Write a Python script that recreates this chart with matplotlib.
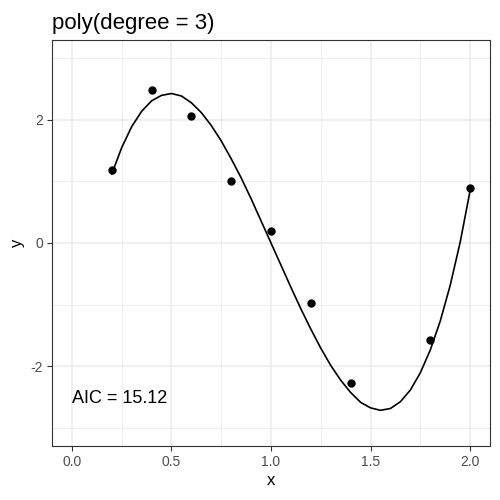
import matplotlib
matplotlib.use('Agg')
import matplotlib.pyplot as plt

# observed points
x_obs = [0.2, 0.4, 0.6, 0.8, 1.0, 1.2, 1.4, 1.8, 2.0]
y_obs = [1.18, 2.48, 2.06, 1.00, 0.20, -0.98, -2.28, -1.58, 0.89]

# fitted cubic curve, values every 0.05
x_fit = [0.20, 0.25, 0.30, 0.35, 0.40, 0.45, 0.50, 0.55, 0.60, 0.65,
         0.70, 0.75, 0.80, 0.85, 0.90, 0.95, 1.00, 1.05, 1.10, 1.15,
         1.20, 1.25, 1.30, 1.35, 1.40, 1.45, 1.50, 1.55, 1.60, 1.65,
         1.70, 1.75, 1.80, 1.85, 1.90, 1.95, 2.00]
y_fit = [1.12, 1.55, 1.89, 2.14, 2.31, 2.40, 2.43, 2.39, 2.28, 2.12,
         1.91, 1.66, 1.37, 1.06, 0.72, 0.36, 0.00, -0.36, -0.72, -1.07,
         -1.40, -1.71, -1.99, -2.23, -2.43, -2.59, -2.68, -2.72, -2.69, -2.58,
         -2.39, -2.11, -1.74, -1.27, -0.69, 0.01, 0.85]

title = 'poly(degree = 3)'
aic_label = 'AIC = 15.12'
x_ticks = [0.0, 0.5, 1.0, 1.5, 2.0]
x_tick_labels = ['0.0', '0.5', '1.0', '1.5', '2.0']
y_ticks = [-2, 0, 2]
y_tick_labels = ['-2', '0', '2']

plt.rcParams['font.family'] = ['Liberation Sans', 'DejaVu Sans']

fig = plt.figure(figsize=(5, 5), dpi=100)
ax = fig.add_axes([0.104, 0.108, 0.876, 0.812])

ax.plot(x_fit, y_fit, color='black', linewidth=1.2, zorder=3,
        solid_joinstyle='round')
ax.plot(x_obs, y_obs, 'o', color='black', markersize=5, zorder=4)
ax.text(0.0, -2.53, aic_label, ha='left', va='center', fontsize=13, color='black')

ax.set_xlim(-0.1, 2.1)
ax.set_ylim(-3.3, 3.3)
ax.set_xticks(x_ticks)
ax.set_xticklabels(x_tick_labels)
ax.set_yticks(y_ticks)
ax.set_yticklabels(y_tick_labels)
ax.set_xticks([0.25, 0.75, 1.25, 1.75], minor=True)
ax.set_yticks([-3, -1, 1, 3], minor=True)

ax.grid(True, which='major', color='#EBEBEB', linewidth=1.1, zorder=0)
ax.grid(True, which='minor', color='#EBEBEB', linewidth=0.6, zorder=0)
ax.set_axisbelow(True)
ax.tick_params(which='minor', length=0)
ax.tick_params(which='major', length=3.5, width=0.8, color='#333333',
               labelcolor='#4D4D4D', labelsize=10, pad=3)
for s in ax.spines.values():
    s.set_color('#333333')
    s.set_linewidth(0.8)

ax.set_xlabel('x', fontsize=12, labelpad=3)
ax.set_ylabel('y', fontsize=12, labelpad=4)
ax.set_title(title, loc='left', fontsize=16, pad=8)

fig.savefig('out.png', dpi=100)
